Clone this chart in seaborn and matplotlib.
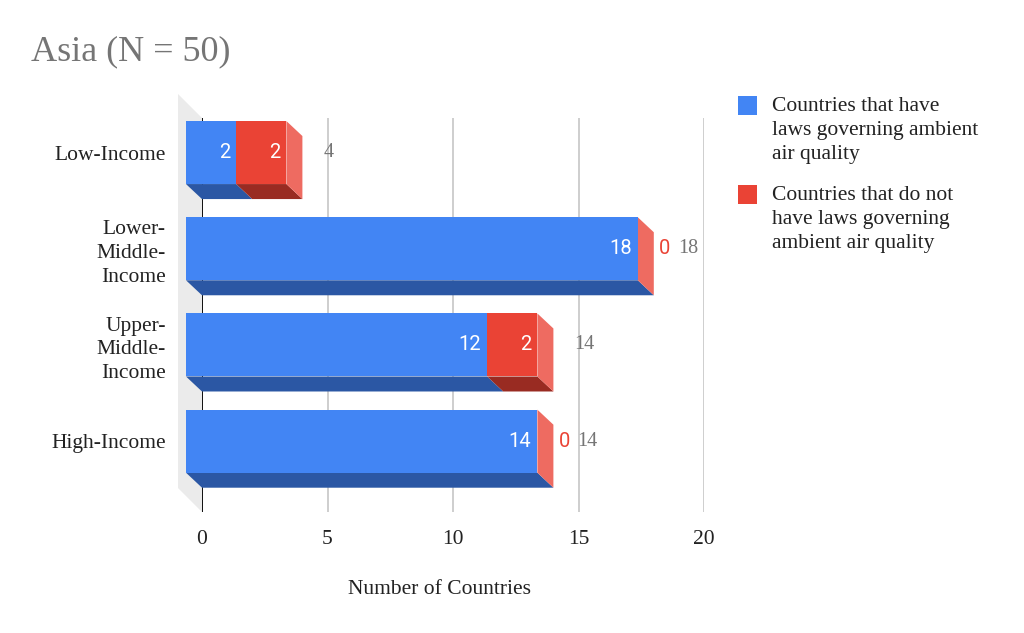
import numpy as np
import pandas as pd
import seaborn as sns
import matplotlib
matplotlib.use("Agg")
import matplotlib.pyplot as plt
from matplotlib.patches import Polygon, Rectangle
from matplotlib.transforms import ScaledTranslation

# ---------------- data ----------------
categories = ["Low-Income", "Lower-\nMiddle-\nIncome", "Upper-\nMiddle-\nIncome", "High-Income"]
have_laws = [2, 18, 12, 14]
no_laws = [2, 0, 2, 0]
series_names = ["Countries that have\nlaws governing ambient\nair quality",
                "Countries that do not\nhave laws governing\nambient air quality"]
x_ticks = [0, 5, 10, 15, 20]
title = "Asia (N = 50)"
x_label = "Number of Countries"

# ---------------- style ----------------
BLUE = "#4285F4"
BLUE_DARK = "#2B57A4"
RED = "#EA4335"
RED_DARK = "#992B22"
RED_SIDE = "#EE6B61"
GREY_TXT = "#757575"
BARH = 0.655
DEPTH_X = 16   # px
DEPTH_Y = 15   # px

sns.set_theme(style="white")
plt.rcParams['font.family'] = ['Liberation Serif', 'DejaVu Serif']

W, H = 1024, 633
DPI = 100
fig = plt.figure(figsize=(W / DPI, H / DPI), dpi=DPI)
ax = fig.add_axes([202 / W, 1 - 512 / H, 502 / W, 394 / H])

totals = [a + b for a, b in zip(have_laws, no_laws)]
df = pd.DataFrame({"cat": categories, "have": have_laws, "total": totals})

sns.barplot(data=df, y="cat", x="total", color=RED, orient="h", width=BARH,
            saturation=1, errorbar=None, ax=ax, zorder=5, linewidth=0)
sns.barplot(data=df, y="cat", x="have", color=BLUE, orient="h", width=BARH,
            saturation=1, errorbar=None, ax=ax, zorder=6, linewidth=0)

ax.set_xlim(0, 20)
ax.set_ylim(3.58, -0.515)
ax.set_ylabel("")

# pixel -> data conversions
px_x = (ax.get_position().width * W) / 20.0
px_y = (ax.get_position().height * H) / (3.58 + 0.515)
dxd = DEPTH_X / px_x
dyd = DEPTH_Y / px_y

# shift front faces up-left
off = ScaledTranslation(-DEPTH_X / DPI, DEPTH_Y / DPI, fig.dpi_scale_trans)
for p in ax.patches:
    p.set_transform(ax.transData + off)
    p.set_clip_on(False)

# bottom and side faces
for i, (h, n, t) in enumerate(zip(have_laws, no_laws, totals)):
    bot = i + BARH / 2
    top = i - BARH / 2
    for x0, x1, col in [(0, h, BLUE_DARK), (h, t, RED_DARK)]:
        if x1 > x0:
            poly = Polygon([(x0 - dxd, bot - dyd), (x1 - dxd, bot - dyd), (x1, bot), (x0, bot)],
                           closed=True, facecolor=col, edgecolor='none', zorder=4, clip_on=False)
            ax.add_patch(poly)
    side = Polygon([(t - dxd, top - dyd), (t, top), (t, bot), (t - dxd, bot - dyd)],
                   closed=True, facecolor=RED_SIDE, edgecolor='none', zorder=4, clip_on=False)
    ax.add_patch(side)

# left wall
wdx = 24 / px_x
wdy = 24 / px_y
wall = Polygon([(-wdx, -0.515 - wdy), (0, -0.515), (0, 3.58), (-wdx, 3.58 - wdy)],
               closed=True, facecolor="#EBEBEB", edgecolor='none', zorder=0, clip_on=False)
ax.add_patch(wall)

# grid
ax.set_xticks(x_ticks)
ax.xaxis.grid(True, color="#C6C6C6", linewidth=1.2, zorder=1)
ax.set_axisbelow(True)
ax.axvline(0, color="black", linewidth=1.3, zorder=2)
for s in ax.spines.values():
    s.set_visible(False)
ax.tick_params(axis='x', length=0, pad=13, labelsize=15.5, labelcolor="#222222")

# category labels at front-face centres
ax.set_yticks([i - dyd for i in range(len(categories))])
ax.set_yticklabels(categories, fontsize=15.5, color="#222222", linespacing=1.35)
ax.tick_params(axis='y', length=0, pad=26)

# value labels
for i, (h, n, t) in enumerate(zip(have_laws, no_laws, totals)):
    yc = i - dyd
    if h > 0:
        ax.text(h - dxd - 6 / px_x, yc, str(h), ha='right', va='center', color='white',
                fontsize=14.5, family=['Roboto', 'DejaVu Sans'], zorder=10)
    if n > 0:
        ax.text(t - dxd - 6 / px_x, yc, str(n), ha='right', va='center', color='white',
                fontsize=14.5, family=['Roboto', 'DejaVu Sans'], zorder=10)
        tot_x = t + 21 / px_x
    else:
        ax.text(t + 5 / px_x, yc, str(n), ha='left', va='center', color=RED,
                fontsize=14.5, family=['Roboto', 'DejaVu Sans'], zorder=10, clip_on=False)
        tot_x = t + 24 / px_x
    ax.text(tot_x, yc, str(t), ha='left', va='center', color=GREY_TXT,
            fontsize=14.5, zorder=10, clip_on=False)

# x label
ax.set_xlabel(x_label, fontsize=15.5, color="#222222", va='center')
ax.xaxis.set_label_coords((440 - 202) / 502, -(589 - 512) / 394)

# title
fig.text(31 / W, 1 - 52 / H, title, ha='left', va='center', fontsize=26, color=GREY_TXT)

# legend
for k, (name, col, ytop) in enumerate(zip(series_names, [BLUE, RED], [96, 185])):
    fig.add_artist(Rectangle((738 / W, 1 - (ytop + 19) / H), 19 / W, 19 / H,
                             transform=fig.transFigure, facecolor=col, edgecolor='none'))
    fig.text(772 / W, 1 - (ytop + 1) / H, name, ha='left', va='top', fontsize=15.5,
             color="#222222", linespacing=1.35)

fig.savefig("out.png", dpi=DPI)
